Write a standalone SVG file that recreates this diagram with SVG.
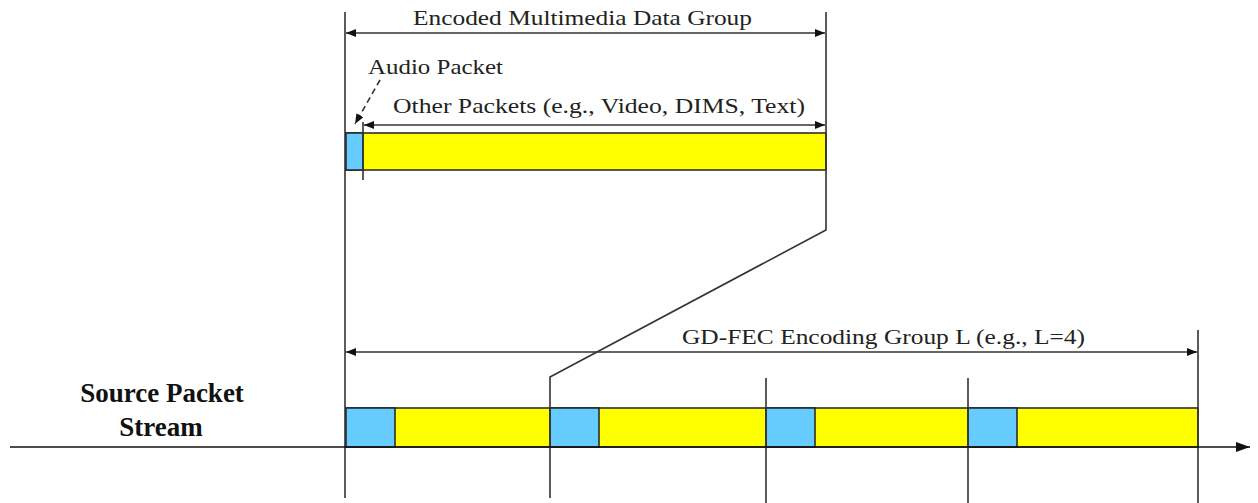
<svg xmlns="http://www.w3.org/2000/svg" width="1258" height="503" viewBox="0 0 1258 503">
<style>
.t{font-family:"Liberation Serif","Times New Roman",serif;font-size:22px;fill:#222}
.b{font-family:"Liberation Serif","Times New Roman",serif;font-size:27px;font-weight:bold;fill:#111}
.ln{stroke:#333;stroke-width:1.6;fill:none}
.blue{fill:#66CCFF;stroke:#222;stroke-width:1.5}
.yel{fill:#FFFF00;stroke:#222;stroke-width:1.5}
</style>
<defs>
<marker id="ah" viewBox="0 0 10 8" refX="10" refY="4" markerWidth="10" markerHeight="8" markerUnits="userSpaceOnUse" orient="auto-start-reverse">
<path d="M0,0 L10,4 L0,8 z" fill="#111"/>
</marker>
<marker id="ax" viewBox="0 0 14 10" refX="14" refY="5" markerWidth="14" markerHeight="10" markerUnits="userSpaceOnUse" orient="auto">
<path d="M0,0 L14,5 L0,10 z" fill="#111"/>
</marker>
</defs>
<g id="top-bar">
<rect class="yel" x="346" y="133" width="480" height="37"/>
<rect class="blue" x="346" y="133" width="17" height="37"/>
</g>
<g id="stream-bar">
<rect class="yel" x="346" y="408" width="852" height="39"/>
<rect class="blue" x="346" y="408" width="49" height="39"/>
<rect class="blue" x="550" y="408" width="49" height="39"/>
<rect class="blue" x="766" y="408" width="49" height="39"/>
<rect class="blue" x="968" y="408" width="49" height="39"/>
</g>
<g id="connectors">
<line class="ln" x1="345" y1="12" x2="345" y2="498"/>
<polyline class="ln" points="826,12 826,230 550,377 550,498"/>
<line class="ln" x1="766" y1="378" x2="766" y2="503"/>
<line class="ln" x1="968" y1="378" x2="968" y2="503"/>
<line class="ln" x1="1198" y1="330" x2="1198" y2="503"/>
<line class="ln" x1="363" y1="122" x2="363" y2="180"/>
<line class="ln" x1="346" y1="33" x2="825" y2="33" marker-start="url(#ah)" marker-end="url(#ah)"/>
<line class="ln" x1="364" y1="125" x2="825" y2="125" marker-start="url(#ah)" marker-end="url(#ah)"/>
<line class="ln" x1="380" y1="80" x2="355" y2="124" stroke-dasharray="6,4" marker-end="url(#ah)"/>
<line class="ln" x1="346" y1="352" x2="1197" y2="352" marker-start="url(#ah)" marker-end="url(#ah)"/>
<line x1="10" y1="447" x2="1250" y2="447" stroke="#111" stroke-width="1.6" marker-end="url(#ax)"/>
</g>
<g id="labels">
<text class="t" x="413" y="25" textLength="339" lengthAdjust="spacingAndGlyphs">Encoded Multimedia Data Group</text>
<text class="t" x="368" y="74" textLength="135" lengthAdjust="spacingAndGlyphs">Audio Packet</text>
<text class="t" x="393" y="113" textLength="412" lengthAdjust="spacingAndGlyphs">Other Packets (e.g., Video, DIMS, Text)</text>
<text class="t" x="682" y="344" textLength="403" lengthAdjust="spacingAndGlyphs">GD-FEC Encoding Group L (e.g., L=4)</text>
<text class="b" x="162" y="402" text-anchor="middle">Source Packet</text>
<text class="b" x="161" y="436" text-anchor="middle">Stream</text>
</g>
</svg>
